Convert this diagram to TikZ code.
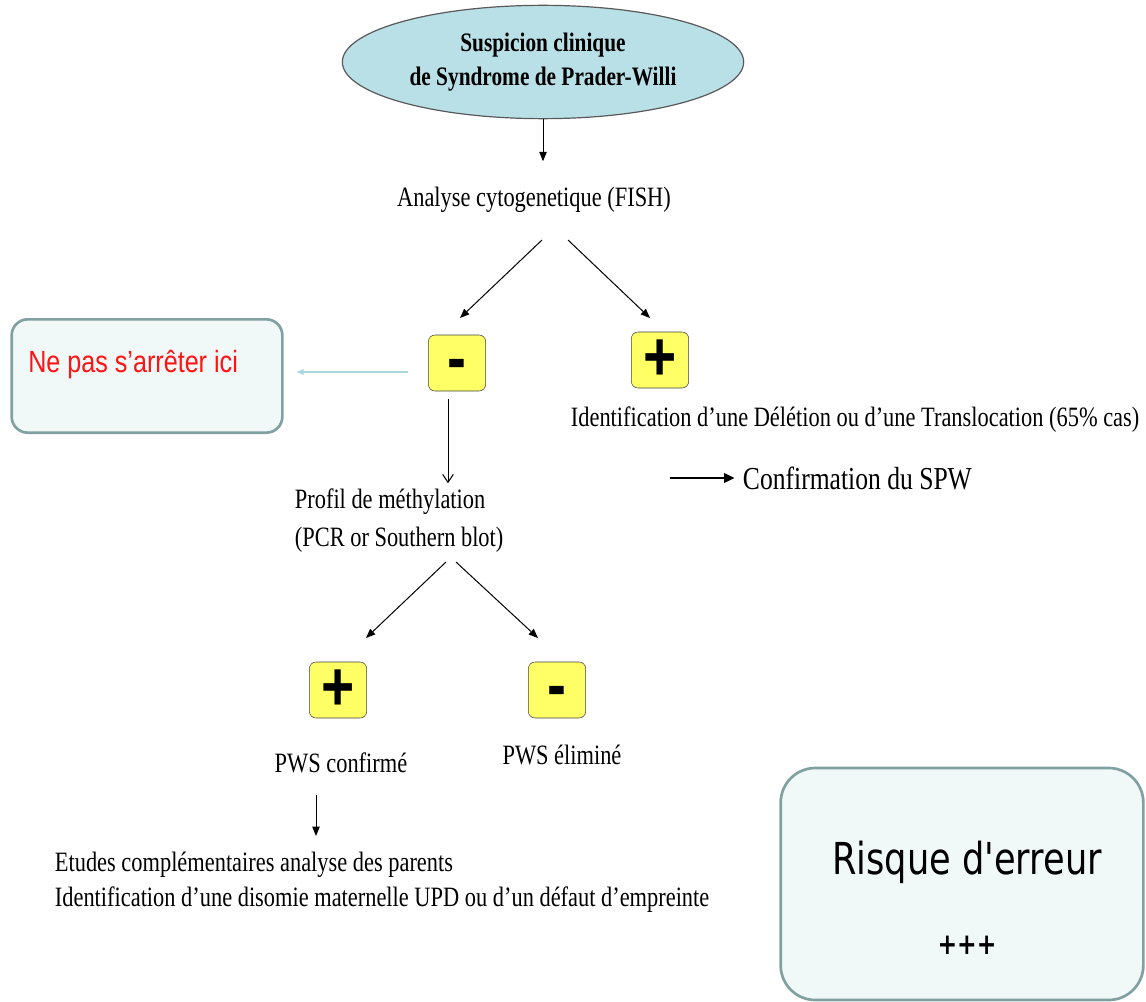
\documentclass[tikz,border=0pt]{standalone}
\usepackage{fontspec}
\setmainfont{Liberation Serif}[FakeStretch=0.8]
\newfontfamily\arialfont{Liberation Sans}[FakeStretch=0.82]
\newfontfamily\comicfont{DejaVu Sans}[FakeStretch=0.8]
\usetikzlibrary{arrows.meta,shapes.geometric,positioning,calc}

\definecolor{ellfill}{RGB}{184,224,230}
\definecolor{signfill}{RGB}{255,255,102}
\definecolor{notefill}{RGB}{240,248,248}
\definecolor{notedraw}{RGB}{128,160,162}
\definecolor{paleline}{RGB}{170,215,222}
\definecolor{stopred}{RGB}{255,20,20}

\newcommand{\minussign}{\raisebox{-0.26em}[0.06em][0.06em]{-}}

\tikzset{
	ellnode/.style={ellipse, draw=black!65, fill=ellfill, line width=0.9pt, minimum width=301pt, minimum height=85pt, inner sep=0pt, align=center, font=\bfseries\fontsize{20}{26}\selectfont},
	txtnode/.style={inner sep=2pt, font=\fontsize{21}{28.5}\selectfont},
	signbox/.style={draw=black!75, fill=signfill, rounded corners=5pt, minimum width=43pt, minimum height=42pt, inner sep=0pt, font=\arialfont\bfseries\fontsize{52}{52}\selectfont},
	notebox/.style={draw=notedraw, fill=notefill, line width=2pt, rounded corners=12pt},
	arr/.style={-{Triangle[length=7pt,width=5.5pt]}, line width=0.75pt},
	openarr/.style={-{Straight Barb[length=6pt,width=8pt]}, line width=0.75pt},
}

\begin{document}
\begin{tikzpicture}[x=0.75pt,y=0.75pt,yscale=-1,xscale=1]
	\useasboundingbox (0,0) rectangle (1146,1002);
	
	% Nodes
	\node[ellnode] (susp) at (543,62) {Suspicion clinique\\de Syndrome de Prader-Willi};
	\node[txtnode] (fish) at (534,200) {Analyse cytogenetique (FISH)};
	\node[signbox] (neg1) at (457,363) {\minussign};
	\node[signbox] (pos1) at (660,360) {+};
	\node[notebox, minimum width=203pt, minimum height=85pt] (stop) at (147,376) {};
	\node[anchor=west, inner sep=0pt, text=stopred, font=\arialfont\fontsize{23}{26}\selectfont] (stoptxt) at (28,365) {Ne pas s’arrêter ici};
	\node[txtnode, anchor=west] (del) at (568,420) {Identification d’une Délétion ou d’une Translocation (65\% cas)};
	\node[txtnode, anchor=west, font=\fontsize{24}{28}\selectfont] (conf) at (740,478) {Confirmation du SPW};
	\coordinate (confstart) at (670,478);
	\node[txtnode, anchor=north west, align=left] (meth) at (292,486) {Profil de méthylation\\(PCR or Southern blot)};
	\node[signbox] (pos2) at (338,690) {+};
	\node[signbox] (neg2) at (557,690) {\minussign};
	\node[txtnode] (pwsok) at (341,763) {PWS confirmé};
	\node[txtnode] (pwsno) at (562,755) {PWS éliminé};
	\node[txtnode, anchor=north west, align=left, font=\fontsize{21}{26.25}\selectfont] (etudes) at (52,849) {Etudes complémentaires analyse des parents\\Identification d’une disomie maternelle UPD ou d’un défaut d’empreinte};
	\node[notebox, minimum width=272pt, minimum height=174pt, rounded corners=26pt] (risk) at (962,884) {};
	\node[inner sep=0pt, font=\comicfont\fontsize{33}{36}\selectfont] (risktxt) at (967,862) {Risque d'erreur};
	\node[inner sep=0pt, font=\comicfont\bfseries\fontsize{22}{24}\selectfont] (riskplus) at (967,945) {+++};
	
	% Connectors
	\draw[arr] (susp.south) -- ++(0,42);
	\draw[arr] ($(fish)+(8,40)$) -- ++(-82,78);
	\draw[arr] ($(fish)+(34,40)$) -- ++(82,78);
	\draw[-{Latex[length=6pt,width=5pt]}, paleline, line width=1.2pt] ($(neg1.west)+(-20,9)$) -- ($(stop.east)+(12,-4)$);
	\draw[openarr] ($(neg1.south)+(-9,8)$) -- ++(0,84);
	\draw[-{Triangle[length=8pt,width=7pt]}, line width=2.2pt, shorten >=4pt] (confstart) -- (conf.west);
	\draw[arr] ($(meth.north west)+(154,76)$) -- ++(-80,76);
	\draw[arr] ($(meth.north west)+(164,76)$) -- ++(82,76);
	\draw[arr] ($(pwsok)+(-25,32)$) -- ++(0,41);
	
\end{tikzpicture}
\end{document}
